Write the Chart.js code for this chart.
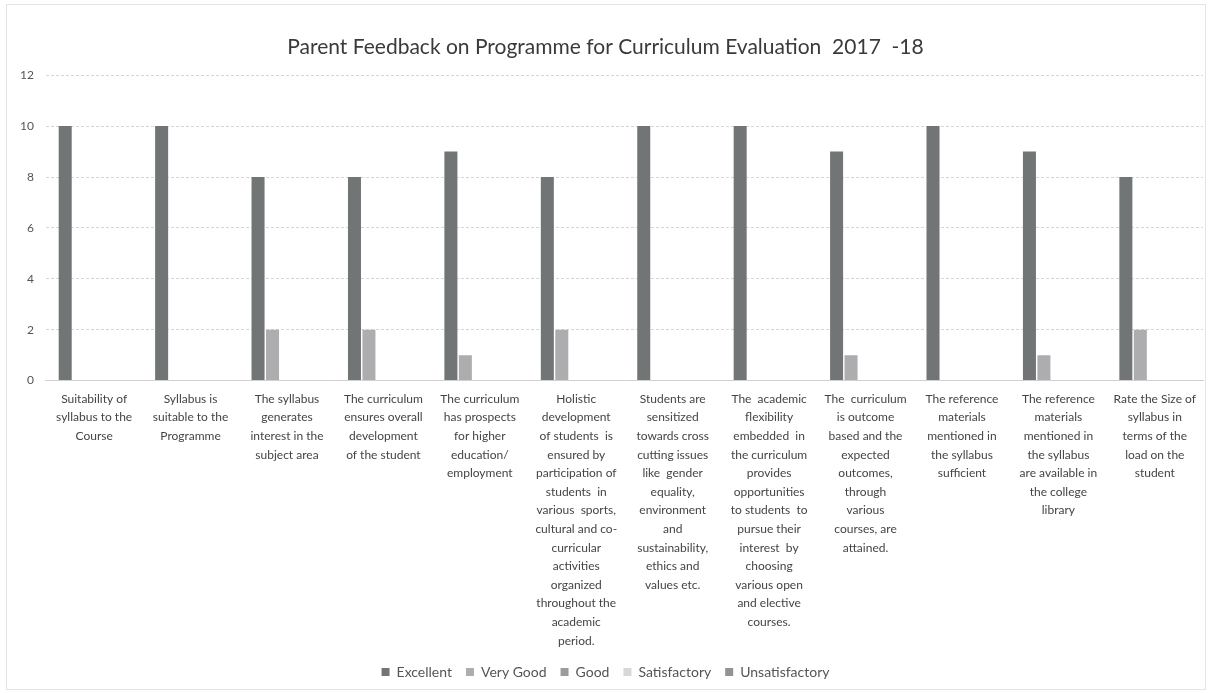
<!DOCTYPE html>
<html>
<head>
<meta charset="utf-8">
<script src="https://cdn.jsdelivr.net/npm/chart.js@4.4.0/dist/chart.umd.min.js"></script>
<style>
  html, body { margin: 0; padding: 0; background: #fff; }
  #wrap { position: absolute; left: 6px; top: 4px; width: 1200px; height: 686px; border: 1px solid #e4e4e4; box-sizing: border-box; }
  #wrap canvas { position: absolute; left: 0; top: 0; }
</style>
</head>
<body>
<div id="wrap"><canvas id="feedbackChart"></canvas></div>
<script>
// Questions (already split into lines as in the printed chart)
const categories = [
    ['Suitability of', 'syllabus to the', 'Course'],
    ['Syllabus is', 'suitable to the', 'Programme'],
    ['The syllabus', 'generates', 'interest in the', 'subject area'],
    ['The curriculum', 'ensures overall', 'development', 'of the student'],
    ['The curriculum', 'has prospects', 'for higher', 'education/', 'employment'],
    ['Holistic', 'development', 'of students  is', 'ensured by', 'participation of', 'students  in', 'various  sports,', 'cultural and co-', 'curricular', 'activities', 'organized', 'throughout the', 'academic', 'period.'],
    ['Students are', 'sensitized', 'towards cross', 'cutting issues', 'like  gender', 'equality,', 'environment', 'and', 'sustainability,', 'ethics and', 'values etc.'],
    ['The  academic', 'flexibility', 'embedded  in', 'the curriculum', 'provides', 'opportunities', 'to students  to', 'pursue their', 'interest  by', 'choosing', 'various open', 'and elective', 'courses.'],
    ['The  curriculum', 'is outcome', 'based and the', 'expected', 'outcomes,', 'through', 'various', 'courses, are', 'attained.'],
    ['The reference', 'materials', 'mentioned in', 'the syllabus', 'sufficient'],
    ['The reference', 'materials', 'mentioned in', 'the syllabus', 'are available in', 'the college', 'library'],
    ['Rate the Size of', 'syllabus in', 'terms of the', 'load on the', 'student'],
];

const excellent      = [10, 10, 8, 8, 9, 8, 10, 10, 9, 10, 9, 8];
const veryGood       = [0, 0, 2, 2, 1, 2, 0, 0, 1, 0, 1, 2];
const good           = [0, 0, 0, 0, 0, 0, 0, 0, 0, 0, 0, 0];
const satisfactory   = [0, 0, 0, 0, 0, 0, 0, 0, 0, 0, 0, 0];
const unsatisfactory = [0, 0, 0, 0, 0, 0, 0, 0, 0, 0, 0, 0];

const yTicks = [0, 2, 4, 6, 8, 10, 12];

const series = [
    { label: 'Excellent', data: excellent, color: '#717575' },
    { label: 'Very Good', data: veryGood, color: '#adadb0' },
    { label: 'Good', data: good, color: '#9c9c9c' },
    { label: 'Satisfactory', data: satisfactory, color: '#d8d8d8' },
    { label: 'Unsatisfactory', data: unsatisfactory, color: '#939393' },
];

const ctx = document.getElementById('feedbackChart').getContext('2d');

new Chart(ctx, {
    type: 'bar',
    data: {
        labels: categories,
        datasets: series.map(s => ({
            label: s.label,
            data: s.data,
            backgroundColor: s.color,
            borderWidth: 0,
            barPercentage: 0.9,
            categoryPercentage: 0.75,
        })),
    },
    options: {
        responsive: true,
        maintainAspectRatio: false,
        animation: false,
        layout: {
            padding: { left: 1, right: 2, top: 30, bottom: 0 },
        },
        plugins: {
            title: {
                display: true,
                text: 'Parent Feedback on Programme for Curriculum Evaluation  2017  -18',
                color: '#3a3a3a',
                font: { family: 'Lato', size: 21, weight: 'normal' },
                padding: { top: 0, bottom: 15 },
            },
            legend: {
                display: true,
                position: 'bottom',
                labels: {
                    color: '#555',
                    font: { family: 'Lato', size: 14 },
                    boxWidth: 8,
                    boxHeight: 8,
                    padding: 14,
                },
            },
            tooltip: { enabled: false },
        },
        scales: {
            x: {
                grid: { display: false },
                border: { color: '#d0d0d0' },
                ticks: {
                    color: '#444',
                    font: { family: 'Lato', size: 12, lineHeight: 1.55 },
                    autoSkip: false,
                    maxRotation: 0,
                    minRotation: 0,
                    padding: 1,
                },
            },
            y: {
                min: 0,
                max: 12,
                afterBuildTicks: axis => {
                    axis.ticks = yTicks.map(v => ({ value: v }));
                },
                grid: { color: '#d6d6d6', drawTicks: false },
                border: { display: false, dash: [3, 2] },
                ticks: {
                    color: '#555',
                    font: { family: 'Lato', size: 12 },
                    padding: 12,
                },
            },
        },
    },
});
</script>
</body>
</html>
